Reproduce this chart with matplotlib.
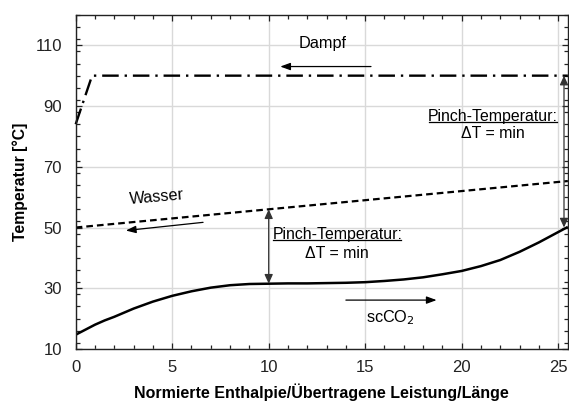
import matplotlib
matplotlib.use("Agg")
import matplotlib.pyplot as plt
from matplotlib.lines import Line2D
from matplotlib.ticker import MultipleLocator

plt.rcParams['font.family'] = ['Liberation Sans', 'DejaVu Sans']

# Enthalpy axis and temperature profiles
dampf_x = [0.0, 0.85, 25.5]
dampf_t = [84.0, 100.0, 100.0]

wasser_x = [0.0, 25.5]
wasser_t = [50.0, 65.3]

co2_x = [0, 1, 1.5, 2, 3, 4, 5, 6, 7, 8, 9, 10, 11, 12, 13, 14, 15, 16,
         17, 18, 19, 20, 21, 22, 23, 24, 25, 25.5]
co2_t = [14.7, 18.0, 19.4, 20.6, 23.3, 25.6, 27.5, 29.0, 30.2, 31.0, 31.4,
         31.5, 31.6, 31.6, 31.7, 31.8, 32.0, 32.4, 32.9, 33.6, 34.6, 35.7,
         37.3, 39.3, 42.0, 45.1, 48.5, 50.2]

pinch_x = [10.0, 25.3]
pinch_low = [31.5, 50.0]
pinch_high = [56.0, 100.0]

xticks = [0, 5, 10, 15, 20, 25]
yticks = [10, 30, 50, 70, 90, 110]

fig = plt.figure(figsize=(5.69, 4.03), dpi=100)
ax = fig.add_axes([0.133, 0.134, 0.865, 0.829])

ax.set_xlim(0, 25.5)
ax.set_ylim(10, 120)
ax.set_xticks(xticks)
ax.set_yticks(yticks)
ax.xaxis.set_minor_locator(MultipleLocator(1))
ax.yaxis.set_minor_locator(MultipleLocator(4))
ax.tick_params(which='both', direction='in', top=True, right=True,
               labelsize=12, colors='#222222', width=0.9)
ax.tick_params(which='major', length=4)
ax.tick_params(which='minor', length=3)
ax.tick_params(axis='x', which='major', pad=8)
ax.tick_params(axis='y', which='major', pad=10)
ax.grid(True, which='major', color='#d9d9d9', lw=1.0)
ax.set_axisbelow(True)
for s in ax.spines.values():
    s.set_color('#222222')
    s.set_linewidth(1.0)

ax.set_xlabel('Normierte Enthalpie/Übertragene Leistung/Länge',
              fontsize=11.5, fontweight='bold', labelpad=6)
ax.set_ylabel('Temperatur [°C]', fontsize=11.3, fontweight='bold', labelpad=5)

ln, = ax.plot(dampf_x, dampf_t, color='black', lw=1.7, clip_on=False)
ln.set_dashes([7, 2.5, 1, 2.5])
lw_, = ax.plot(wasser_x, wasser_t, color='black', lw=1.6)
lw_.set_dashes([3, 1.8])
ax.plot(co2_x, co2_t, color='black', lw=1.8, solid_capstyle='butt')

# Pinch arrows
for px, lo, hi in zip(pinch_x, pinch_low, pinch_high):
    ax.annotate('', xy=(px, hi), xytext=(px, lo),
                arrowprops=dict(arrowstyle='<|-|>,head_length=0.55,head_width=0.25',
                                color='#333333', lw=0.9,
                                shrinkA=0, shrinkB=0))

# Flow direction arrows
def flow_arrow(x0, y0, x1, y1):
    ax.annotate('', xy=(x1, y1), xytext=(x0, y0),
                arrowprops=dict(arrowstyle='-|>,head_length=0.6,head_width=0.22',
                                color='black', lw=0.9, shrinkA=0, shrinkB=0))

flow_arrow(15.3, 103.0, 10.6, 103.0)
flow_arrow(6.6, 51.7, 2.6, 49.0)
flow_arrow(14.0, 26.1, 18.7, 26.1)

ax.text(12.8, 110.5, 'Dampf', fontsize=11.7, ha='center', va='center')
ax.text(4.2, 60.0, 'Wasser', fontsize=11.7, ha='center', va='center', rotation=5)
ax.text(16.3, 20.4, 'scCO$_2$', fontsize=11.7, ha='center', va='center')

pinch_labels = []
for cx, y1, y2 in [(13.55, 47.6, 41.3), (21.6, 86.5, 81.1)]:
    t = ax.text(cx, y1, 'Pinch-Temperatur:', fontsize=11.4, ha='center', va='center')
    ax.text(cx, y2, 'ΔT = min', fontsize=11.4, ha='center', va='center')
    pinch_labels.append(t)

# Underline the pinch headings
fig.canvas.draw()
renderer = fig.canvas.get_renderer()
inv = fig.transFigure.inverted()
for t in pinch_labels:
    bb = t.get_window_extent(renderer)
    (fx0, fy0) = inv.transform((bb.x0 + 1, bb.y0 + 2.5))
    (fx1, _) = inv.transform((bb.x1 - 1, bb.y0 + 2.5))
    fig.add_artist(Line2D([fx0, fx1], [fy0, fy0], color='black', lw=0.9,
                          transform=fig.transFigure))

fig.savefig('out.png', dpi=100)
